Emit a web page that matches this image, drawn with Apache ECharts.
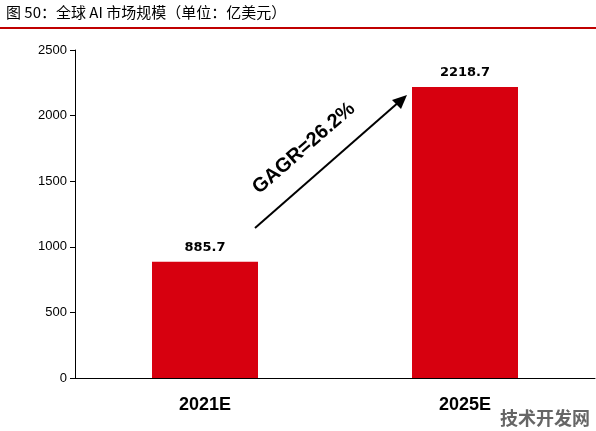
<!DOCTYPE html>
<html><head><meta charset="utf-8">
<script src="https://cdn.jsdelivr.net/npm/echarts@6/dist/echarts.min.js"></script>
<style>html,body{margin:0;padding:0;background:#fff}#c{width:596px;height:431px}</style>
</head><body><div id="c"></div>
<script>
const categories = ['2021E', '2025E'];
const values = [885.7, 2218.7];
const yTicks = [0, 500, 1000, 1500, 2000, 2500];
const chart = echarts.init(document.getElementById('c'));
chart.setOption({
  animation: false,
  grid: {left: 75, right: 1, top: 50, bottom: 53},
  xAxis: {type: 'category', data: categories,
    axisLine: {lineStyle: {color: '#000', width: 1}}, axisTick: {show: false},
    axisLabel: {color: '#000', fontSize: 18, fontWeight: 'bold', margin: 18, fontFamily: 'Liberation Sans'}},
  yAxis: {type: 'value', min: yTicks[0], max: yTicks[yTicks.length-1], interval: 500,
    axisLine: {show: true, lineStyle: {color: '#000'}}, axisTick: {show: true, length: 5, lineStyle: {color: '#000'}},
    splitLine: {show: false},
    axisLabel: {color: '#000', fontSize: 13, fontFamily: 'Liberation Sans', formatter: v => String(v)}},
  series: [{type: 'bar', data: values, barWidth: 106,
    itemStyle: {color: '#d7000f'},
    label: {show: true, position: 'top', color: '#000', fontSize: 13, fontWeight: 'bold', distance: 8, fontFamily: 'DejaVu Sans'}}],
  graphic: [
    {type: 'text', left: 6, top: 5, style: {text: '图 50：全球 AI 市场规模（单位：亿美元）', fontSize: 15, fill: '#000', fontFamily: 'Noto Sans CJK SC'}},
    {type: 'line', shape: {x1: 0, y1: 28, x2: 596, y2: 28}, style: {stroke: '#c00000', lineWidth: 2}},
    {type: 'line', shape: {x1: 255, y1: 228, x2: 400, y2: 101}, style: {stroke: '#000', lineWidth: 2}},
    {type: 'polygon', shape: {points: [[407, 95], [392, 100], [401, 109]]}, style: {fill: '#000'}},
    {type: 'text', x: 262, y: 198, rotation: 41 * Math.PI / 180,
      style: {text: 'GAGR=26.2%', fontSize: 20, fontWeight: 'bold', fill: '#000', fontFamily: 'Liberation Sans', verticalAlign: 'bottom'}},
    {type: 'text', right: 6, bottom: 4, style: {text: '技术开发网', fontSize: 18, fontWeight: 'bold', fill: '#666', fontFamily: 'Noto Sans CJK SC'}}
  ]
});
</script></body></html>
